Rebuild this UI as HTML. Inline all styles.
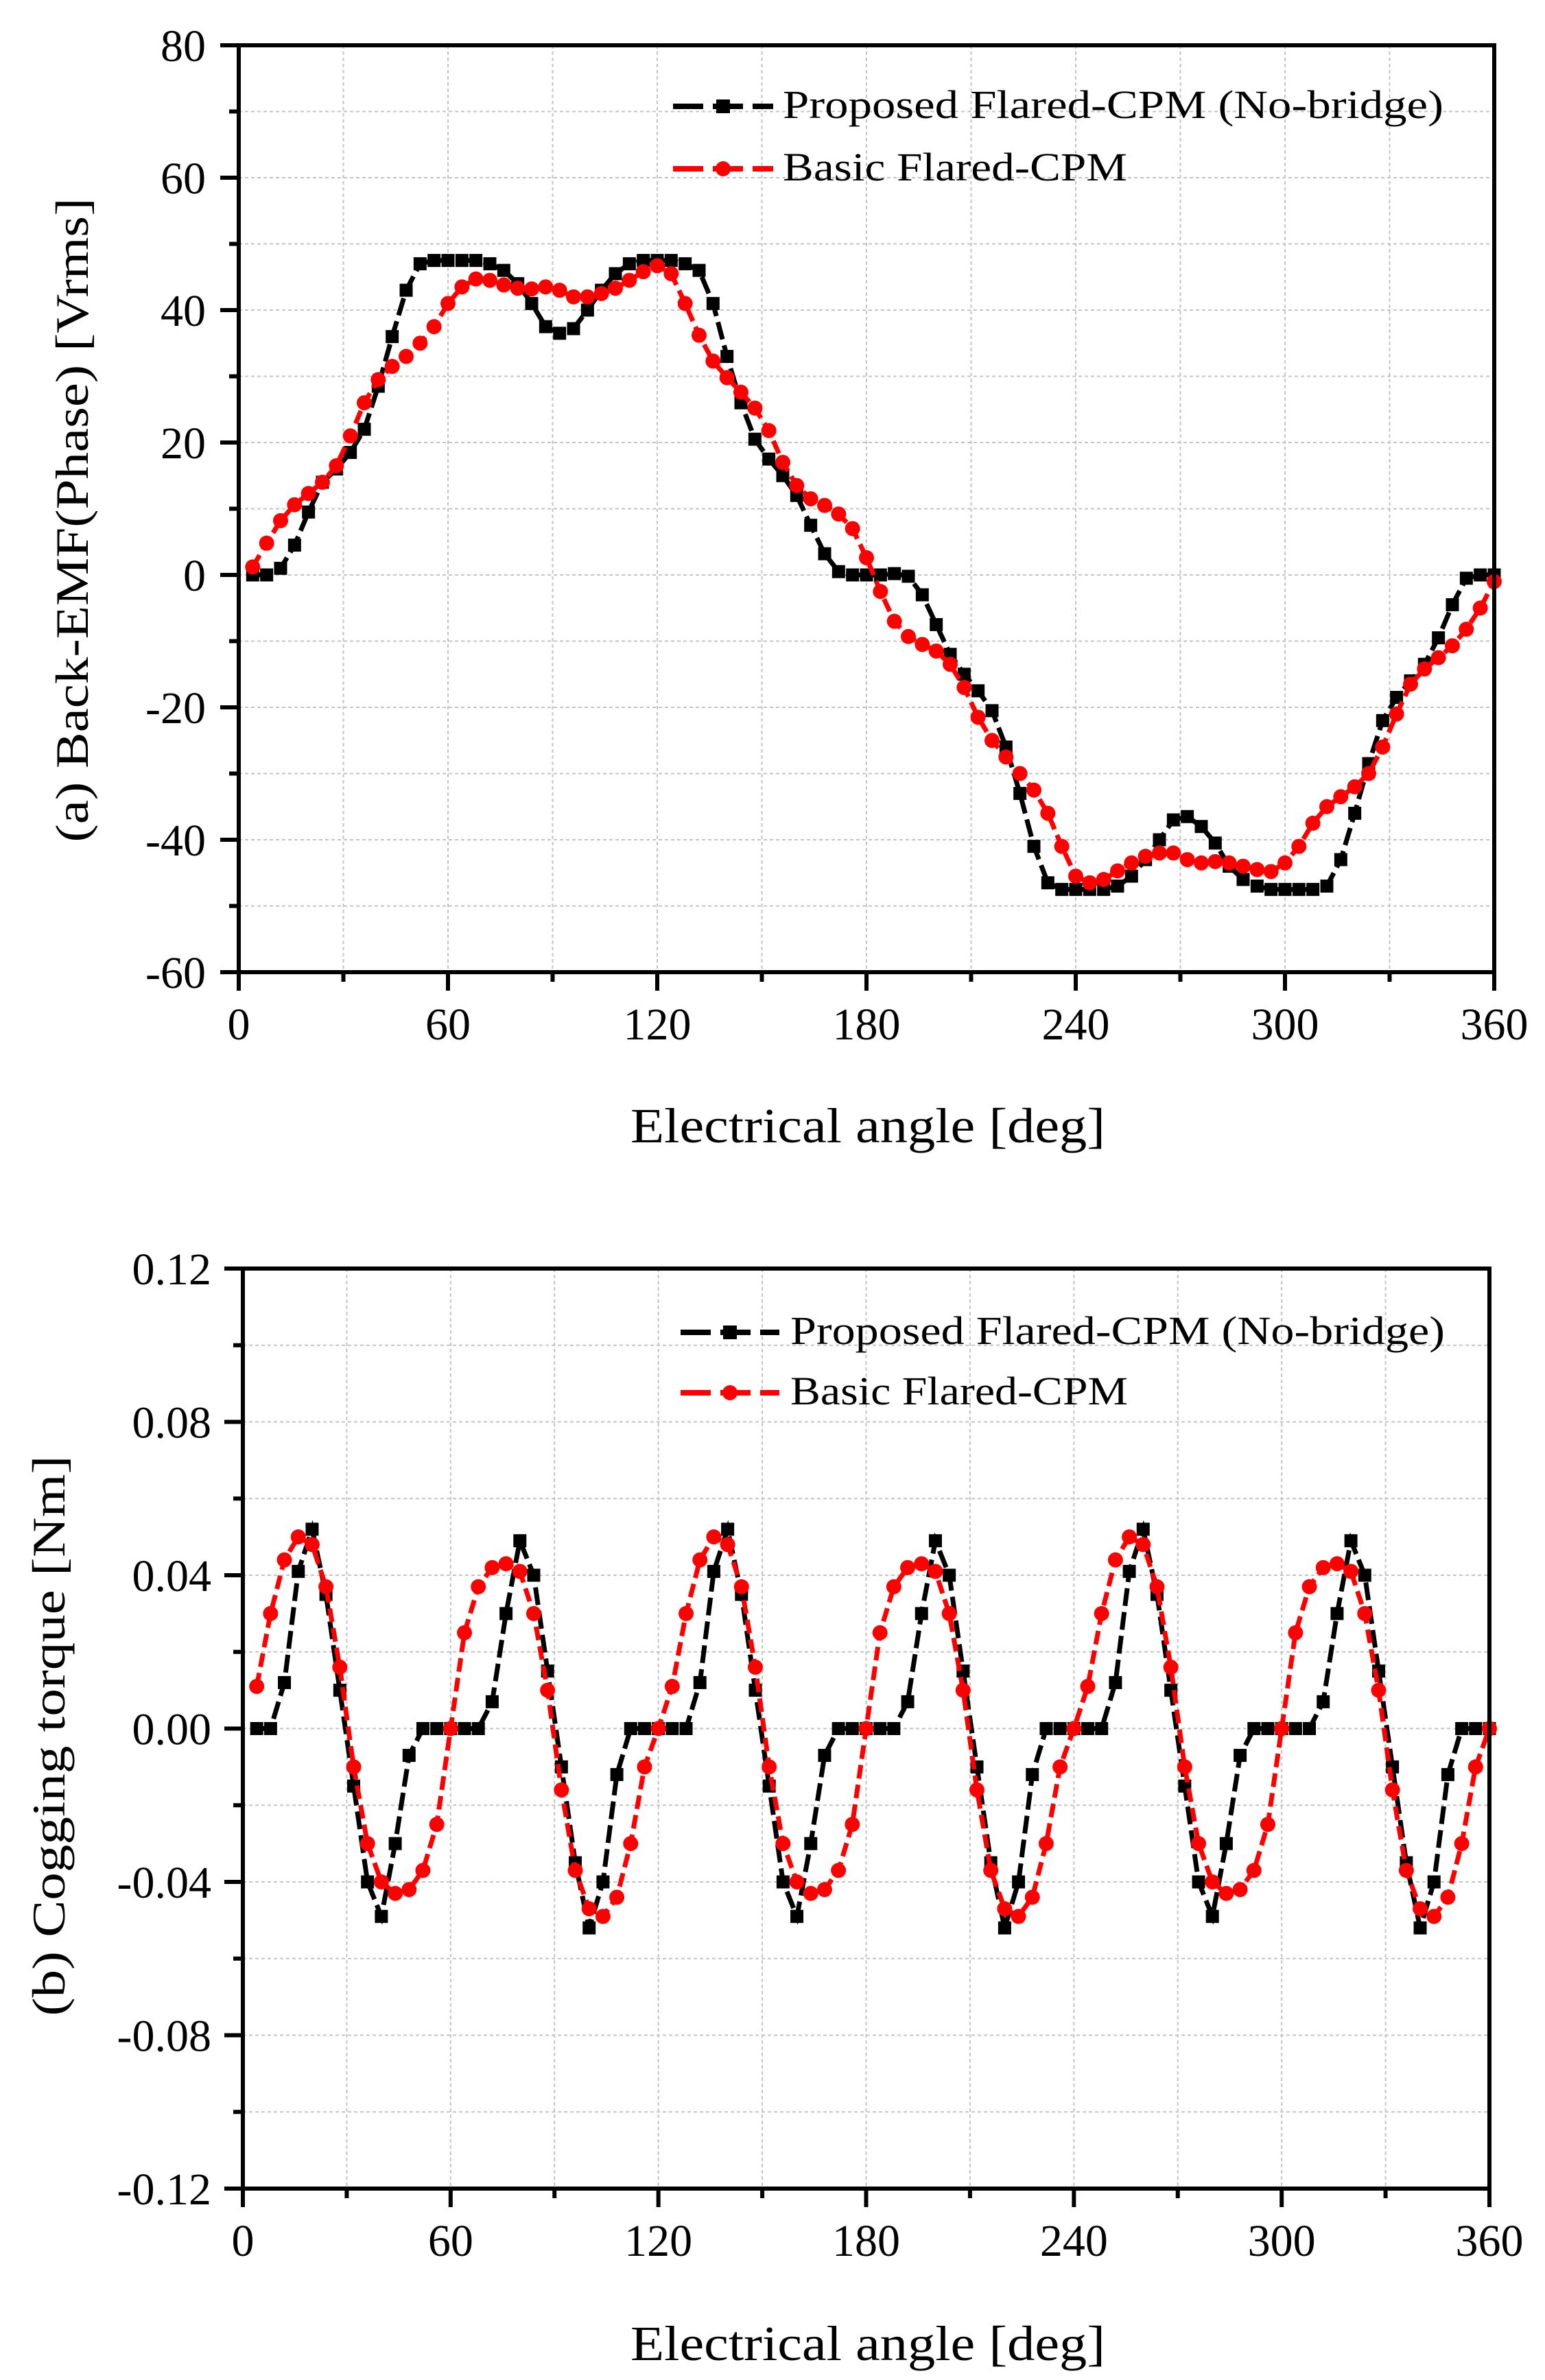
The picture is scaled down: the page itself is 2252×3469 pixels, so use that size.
<!DOCTYPE html>
<html><head><meta charset="utf-8"><style>
html,body{margin:0;padding:0;background:#fff;}
svg{display:block;}
text{font-family:"Liberation Serif",serif;fill:#000;}
</style></head><body>
<svg id="s" width="2252" height="3469" viewBox="0 0 2252 3469" xmlns="http://www.w3.org/2000/svg">
<rect width="2252" height="3469" fill="#fff"/>
<g id="p1"></g>
<g id="p2"></g>
<text x="1265" y="1665" font-size="72" text-anchor="middle" textLength="692" lengthAdjust="spacingAndGlyphs">Electrical angle [deg]</text>
<text x="1265" y="3440" font-size="72" text-anchor="middle" textLength="692" lengthAdjust="spacingAndGlyphs">Electrical angle [deg]</text>
<text transform="translate(128,758) rotate(-90)" font-size="68" text-anchor="middle" textLength="939" lengthAdjust="spacingAndGlyphs">(a) Back-EMF(Phase) [Vrms]</text>
<text transform="translate(94,2530) rotate(-90)" font-size="68" text-anchor="middle" textLength="817" lengthAdjust="spacingAndGlyphs">(b) Cogging torque [Nm]</text>
<g>
<line x1="981" y1="155" x2="1127" y2="155" stroke="#000" stroke-width="8" stroke-dasharray="44,14"/>
<rect x="1044" y="145" width="20" height="20" fill="#000"/>
<text x="1141" y="172" font-size="58" textLength="963" lengthAdjust="spacingAndGlyphs">Proposed Flared-CPM (No-bridge)</text>
<line x1="981" y1="246" x2="1127" y2="246" stroke="#f00" stroke-width="8" stroke-dasharray="44,14"/>
<circle cx="1054" cy="246" r="11" fill="#f00"/>
<text x="1141" y="263" font-size="58" textLength="502" lengthAdjust="spacingAndGlyphs">Basic Flared-CPM</text>

<line x1="992" y1="1942" x2="1136" y2="1942" stroke="#000" stroke-width="8" stroke-dasharray="44,14"/>
<rect x="1054" y="1932" width="20" height="20" fill="#000"/>
<text x="1152" y="1959" font-size="58" textLength="954" lengthAdjust="spacingAndGlyphs">Proposed Flared-CPM (No-bridge)</text>
<line x1="992" y1="2030" x2="1136" y2="2030" stroke="#f00" stroke-width="8" stroke-dasharray="44,14"/>
<circle cx="1064" cy="2030" r="11" fill="#f00"/>
<text x="1152" y="2047" font-size="58" textLength="492" lengthAdjust="spacingAndGlyphs">Basic Flared-CPM</text>
</g>
</svg>
<script>
var NS="http://www.w3.org/2000/svg";
function el(g,n,a,t){var e=document.createElementNS(NS,n);for(var k in a)e.setAttribute(k,a[k]);if(t!==undefined)e.textContent=t;g.appendChild(e);return e;}
function plot(gid,L,T,R,B,ymin,ymax,ymaj,ymin2,fmt,series,labRight){
 var g=document.getElementById(gid);
 function X(v){return L+(R-L)*v/360;}
 function Y(v){return B-(B-T)*(v-ymin)/(ymax-ymin);}
 for(var x=30;x<360;x+=30){el(g,'line',{x1:X(x),y1:T,x2:X(x),y2:B,stroke:'#c4c4c4','stroke-width':2,'stroke-dasharray':'5,4'});}
 var n=Math.round((ymax-ymin)/ymin2);
 for(var i=1;i<n;i++){var v=ymin+i*ymin2;el(g,'line',{x1:L,y1:Y(v),x2:R,y2:Y(v),stroke:'#c4c4c4','stroke-width':2,'stroke-dasharray':'5,4'});}
 series.forEach(function(s){
  var pts=s.d.map(function(v,i){return X(4*(i+1))+','+Y(v);}).join(' ');
  el(g,'polyline',{points:pts,fill:'none',stroke:s.c,'stroke-width':7,'stroke-dasharray':s.dash});
  s.d.forEach(function(v,i){var cx=X(4*(i+1)),cy=Y(v);
   if(s.m=='sq')el(g,'rect',{x:cx-9.5,y:cy-9.5,width:19,height:19,fill:s.c});
   else el(g,'circle',{cx:cx,cy:cy,r:11,fill:s.c});});
 });
 el(g,'rect',{x:L,y:T,width:R-L,height:B-T,fill:'none',stroke:'#000','stroke-width':6});
 for(var x=0;x<=360;x+=30){var maj=x%60==0;el(g,'line',{x1:X(x),y1:B,x2:X(x),y2:B+(maj?27:14),stroke:'#000','stroke-width':6});
  if(maj)el(g,'text',{x:X(x),y:B+98,'font-size':66,'text-anchor':'middle'},String(x));}
 for(var i=0;i<=n;i++){var v=ymin+i*ymin2;var maj=(i%2==0);
  el(g,'line',{x1:L-(maj?27:14),y1:Y(v),x2:L,y2:Y(v),stroke:'#000','stroke-width':6});
  if(maj)el(g,'text',{x:labRight,y:Y(v)+23,'font-size':66,'text-anchor':'end'},fmt(v));}
}
var b1=[0,0,1,4.5,9.5,14,16,18.5,22,28.5,36,43,47,47.5,47.5,47.5,47.5,47,46,44,41,37.5,36.5,37.2,40,43,45.5,47,47.5,47.5,47.5,47,46,41,33,26,20.5,17.5,15,12,7.5,3.2,0.5,0,0,0,0.2,-0.2,-3,-7.5,-12,-15,-17.5,-20.5,-26,-33,-41,-46.5,-47.5,-47.5,-47.5,-47.5,-47,-45.5,-43,-40,-37,-36.5,-38,-40.5,-44,-46,-47,-47.5,-47.5,-47.5,-47.5,-47,-43,-36,-28.5,-22,-18.5,-16,-13.5,-9.5,-4.5,-0.5,0,0];
var r1=[1.2,4.8,8.2,10.6,12.3,14,16.5,21,26,29.5,31.5,33,35,37.5,41,43.5,44.7,44.5,43.8,43.3,43.2,43.5,43,42,42,42.5,43.3,44.5,45.8,46.7,45.5,41,36.2,32.3,29.8,27.6,25.2,21.8,17,13.5,11.5,10.5,9.2,7,2.6,-2.5,-7,-9.3,-10.5,-11.5,-13.5,-17,-21.5,-25,-27.5,-30,-32.5,-36,-41,-45.5,-46.5,-46,-44.7,-43.5,-42.5,-42,-42,-43,-43.5,-43.3,-43.5,-44,-44.5,-44.8,-43.5,-41,-37.5,-35,-33.5,-32,-30,-26,-21,-16.5,-14.2,-12.5,-10.7,-8.2,-5,-1];
var rc=[0.011,0.03,0.044,0.05,0.048,0.037,0.016,-0.01,-0.03,-0.04,-0.043,-0.042,-0.037,-0.025,0,0.025,0.037,0.042,0.043,0.041,0.03,0.01,-0.016,-0.037,-0.047,-0.049,-0.044,-0.03,-0.01,0];
var bc=[0,0,0.012,0.041,0.052,0.035,0.01,-0.015,-0.04,-0.049,-0.03,-0.007,0,0,0,0,0,0.007,0.03,0.049,0.04,0.015,-0.01,-0.035,-0.052,-0.04,-0.012,0,0,0];
var r2=[],b2=[];for(var k=0;k<3;k++){r2=r2.concat(rc);b2=b2.concat(bc);}
plot('p1',348,66,2178,1417,-60,80,20,10,function(v){return String(Math.round(v));},
 [{d:b1,c:'#000',m:'sq',dash:'26,9'},{d:r1,c:'#f00',m:'ci',dash:'20,9'}],300);
plot('p2',354,1849,2171,3190,-0.12,0.12,0.04,0.02,function(v){return (Math.abs(v)<1e-9?0:v).toFixed(2);},
 [{d:b2,c:'#000',m:'sq',dash:'26,9'},{d:r2,c:'#f00',m:'ci',dash:'20,9'}],308);
</script>
</body></html>
